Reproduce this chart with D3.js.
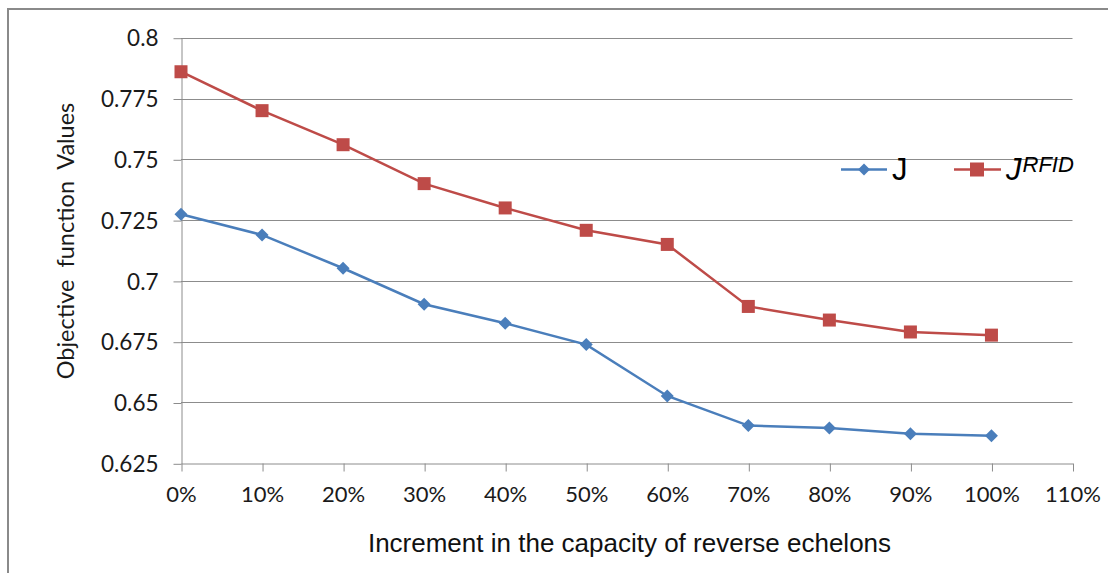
<!DOCTYPE html>
<html><head><meta charset="utf-8">
<script src="https://cdn.jsdelivr.net/npm/d3@7"></script>
<style>html,body{margin:0;padding:0;background:#fff;overflow:hidden}</style>
</head><body>
<svg id="c" width="1108" height="573"></svg>
<script>
const categories = [0, 0.1, 0.2, 0.3, 0.4, 0.5, 0.6, 0.7, 0.8, 0.9, 1.0];
const xTickValues = [0, 0.1, 0.2, 0.3, 0.4, 0.5, 0.6, 0.7, 0.8, 0.9, 1.0, 1.1];
const xTickLabels = ["0%","10%","20%","30%","40%","50%","60%","70%","80%","90%","100%","110%"];
const yTickValues = [0.625, 0.65, 0.675, 0.7, 0.725, 0.75, 0.775, 0.8];
const yTickLabels = ["0.625","0.65","0.675","0.7","0.725","0.75","0.775","0.8"];
const seriesJ = [0.7274, 0.7189, 0.7052, 0.6904, 0.6826, 0.6738, 0.6527, 0.6405, 0.6395, 0.6372, 0.6363];
const seriesJRFID = [0.786, 0.770, 0.756, 0.740, 0.730, 0.7208, 0.715, 0.6895, 0.6839, 0.6790, 0.6777];

const svg = d3.select("#c");
const x = d3.scaleLinear().domain([0, 1.1]).range([181, 1072.5]);
const y = d3.scaleLinear().domain([0.625, 0.8]).range([463.3, 37.7]);
const gridCol = "#8c8c8c";
const blue = "#4a7ebb", red = "#be4b48";
const tickFont = "Lato, 'Open Sans', sans-serif";

// outer border
svg.append("rect").attr("x", 8).attr("y", 9).attr("width", 1300).attr("height", 1000)
  .attr("fill", "none").attr("stroke", "#8a8a8a").attr("stroke-width", 2);

// gridlines
svg.append("g").selectAll("line").data(yTickValues.slice(1)).join("line")
  .attr("x1", x(0)).attr("x2", x(1.1))
  .attr("y1", d => Math.round(y(d)) + 0.5).attr("y2", d => Math.round(y(d)) + 0.5)
  .attr("stroke", gridCol).attr("stroke-width", 1);

// y axis
const yAxis = d3.axisLeft(y).tickValues(yTickValues)
  .tickFormat((d, i) => yTickLabels[i]).tickSizeInner(8).tickSizeOuter(0).tickPadding(15);
const gy = svg.append("g").attr("transform", `translate(${Math.round(x(0)) + 0.5},0)`).call(yAxis);
gy.selectAll(".tick line").attr("transform", "translate(0,0.5)");
gy.select(".domain").attr("stroke", gridCol);
gy.selectAll(".tick line").attr("stroke", gridCol);
gy.selectAll(".tick text").attr("font-family", tickFont).attr("font-size", 22.5).attr("fill", "#1a1a1a").attr("dy", "0.36em");

// x axis
const xAxis = d3.axisBottom(x).tickValues(xTickValues)
  .tickFormat((d, i) => xTickLabels[i]).tickSizeInner(8).tickSizeOuter(0).tickPadding(15);
const gx = svg.append("g").attr("transform", `translate(0,${Math.round(y(0.625)) + 0.5})`).call(xAxis);
gx.select(".domain").attr("stroke", gridCol);
gx.selectAll(".tick line").attr("stroke", gridCol).attr("transform", "translate(0.5,0)");
gx.selectAll(".tick text").attr("font-family", tickFont).attr("font-size", 22).attr("fill", "#1a1a1a");

// axis titles
svg.append("text").attr("x", 629.5).attr("y", 552).attr("text-anchor", "middle")
  .attr("font-family", "'Liberation Sans', Arial, sans-serif").attr("font-size", 26).attr("fill", "#111")
  .text("Increment in the capacity of reverse echelons");
svg.append("text").attr("transform", "translate(74,241) rotate(-90)").attr("text-anchor", "middle")
  .attr("font-family", tickFont).attr("font-size", 23.5).attr("fill", "#1a1a1a")
  .attr("xml:space", "preserve")
  .text("Objective  function  Values");

// lines
const line = d3.line().x((d, i) => x(categories[i])).y(d => y(d));
svg.append("path").datum(seriesJ).attr("d", line).attr("fill", "none").attr("stroke", blue).attr("stroke-width", 2.5);
svg.append("path").datum(seriesJRFID).attr("d", line).attr("fill", "none").attr("stroke", red).attr("stroke-width", 2.5);

const diamondPath = "M0,-6.5L6.5,0L0,6.5L-6.5,0Z";
svg.append("g").selectAll("path").data(seriesJ).join("path")
  .attr("transform", (d, i) => `translate(${x(categories[i])},${y(d)})`)
  .attr("d", diamondPath).attr("fill", blue);
svg.append("g").selectAll("rect").data(seriesJRFID).join("rect")
  .attr("x", (d, i) => x(categories[i]) - 6.5).attr("y", d => y(d) - 6.5)
  .attr("width", 13).attr("height", 13).attr("fill", red);

// legend
const lg = svg.append("g");
lg.append("line").attr("x1", 841).attr("x2", 887).attr("y1", 169.5).attr("y2", 169.5).attr("stroke", blue).attr("stroke-width", 2.5);
lg.append("path").attr("transform", "translate(864,169.5)").attr("d", "M0,-6L6,0L0,6L-6,0Z").attr("fill", blue);
lg.append("text").attr("x", 892).attr("y", 180).attr("font-family", "'Liberation Sans', Arial, sans-serif")
  .attr("font-size", 31).attr("fill", "#000").text("J");
lg.append("line").attr("x1", 954).attr("x2", 1001).attr("y1", 169.5).attr("y2", 169.5).attr("stroke", red).attr("stroke-width", 2.5);
lg.append("rect").attr("x", 970).attr("y", 162.5).attr("width", 14).attr("height", 14).attr("fill", red);
const t2 = lg.append("text").attr("x", 1006).attr("y", 180).attr("font-family", "'Liberation Sans', Arial, sans-serif").attr("fill", "#000");
t2.append("tspan").attr("font-size", 31).attr("font-style", "italic").text("J");
t2.append("tspan").attr("font-size", 22).attr("font-style", "italic").attr("dy", -8).attr("dx", 1).text("RFID");
</script>
</body></html>
